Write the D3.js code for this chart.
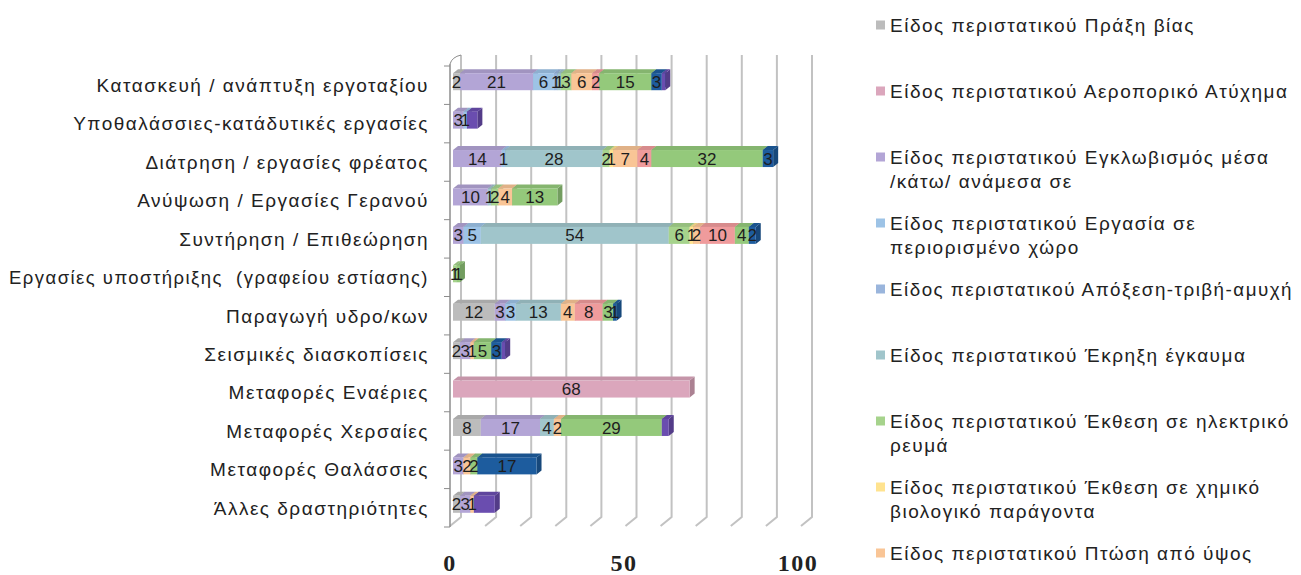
<!DOCTYPE html>
<html>
  <head>
    <meta charset="utf-8">
    <title>Είδος περιστατικού ανά δραστηριότητα</title>
    <script src="https://d3js.org/d3.v7.min.js"></script>
    <style>
      body { margin: 0; background: #fff; }
      svg { display: block; }
    </style>
  </head>
  <body>
    <svg width="1301" height="575"></svg>

    <script>
      // categories, top to bottom
      const categories = [
        "Κατασκευή / ανάπτυξη εργοταξίου",
        "Υποθαλάσσιες-κατάδυτικές εργασίες",
        "Διάτρηση / εργασίες φρέατος",
        "Ανύψωση / Εργασίες Γερανού",
        "Συντήρηση / Επιθεώρηση",
        "Εργασίες υποστήριξης  (γραφείου εστίασης)",
        "Παραγωγή υδρο/κων",
        "Σεισμικές διασκοπίσεις",
        "Μεταφορές Εναέριες",
        "Μεταφορές Χερσαίες",
        "Μεταφορές Θαλάσσιες",
        "Άλλες δραστηριότητες"
      ];

      const seriesNames = [
        "Είδος περιστατικού Πράξη βίας",
        "Είδος περιστατικού Αεροπορικό Ατύχημα",
        "Είδος περιστατικού Εγκλωβισμός μέσα /κάτω/ ανάμεσα σε",
        "Είδος περιστατικού Εργασία σε περιορισμένο χώρο",
        "Είδος περιστατικού Απόξεση-τριβή-αμυχή",
        "Είδος περιστατικού Έκρηξη έγκαυμα",
        "Είδος περιστατικού Έκθεση σε ηλεκτρικό ρευμά",
        "Είδος περιστατικού Έκθεση σε χημικό βιολογικό παράγοντα",
        "Είδος περιστατικού Πτώση από ύψος",
        "Είδος περιστατικού Πτώση αντικειμένου",
        "Είδος περιστατικού Χτύπημα από αντικείμενο",
        "Είδος περιστατικού Ολίσθηση-παραπάτημα",
        "Είδος περιστατικού Άλλο"
      ];

      const seriesColors = [
        "#bcbcbc", "#dba6bc", "#b3a5d6", "#9dc3e6", "#9ab5dc", "#a0c5cb", "#a6d38c",
        "#ffe38f", "#f9c596", "#ef9b9c", "#94c97b", "#1d5c9e", "#6a4daf"
      ];

      // one array per series, values in category order
      const praxiVias      = [2, 0, 0, 0, 0, 0, 12, 2, 0, 8, 0, 2];
      const aeroporiko     = [0, 0, 0, 0, 0, 0, 0, 0, 68, 0, 0, 0];
      const egklovismos    = [21, 3, 14, 10, 3, 0, 3, 3, 0, 17, 3, 3];
      const periorismenos  = [6, 1, 1, 0, 5, 0, 3, 0, 0, 0, 0, 0];
      const apoxesi        = [1, 0, 0, 0, 0, 0, 0, 0, 0, 0, 0, 0];
      const ekrixi         = [1, 0, 28, 1, 54, 0, 13, 0, 0, 4, 0, 0];
      const ilektriko      = [3, 0, 2, 2, 6, 1, 0, 0, 0, 0, 0, 0];
      const ximiko         = [0, 0, 1, 0, 1, 0, 0, 0, 0, 0, 0, 0];
      const ptosiYpsos     = [6, 0, 7, 4, 2, 0, 4, 1, 0, 2, 2, 1];
      const ptosiAntik     = [2, 0, 4, 0, 10, 0, 8, 0, 0, 0, 0, 0];
      const xtypima        = [15, 0, 32, 13, 4, 1, 3, 5, 0, 29, 2, 0];
      const olisthisi      = [3, 0, 3, 0, 2, 0, 1, 3, 0, 0, 17, 0];
      const allo           = [1, 3, 0, 0, 0, 0, 0, 1, 0, 2, 0, 6];

      const seriesValues = [praxiVias, aeroporiko, egklovismos, periorismenos, apoxesi, ekrixi,
        ilektriko, ximiko, ptosiYpsos, ptosiAntik, xtypima, olisthisi, allo];

      const xTicks = [0, 50, 100];

      const svg = d3.select("svg");
      const H = +svg.attr("height");

      const rows = categories.map((c, i) => {
        const r = { cat: c };
        seriesValues.forEach((vals, s) => r[s] = vals[i]);
        return r;
      });
      const keys = d3.range(seriesValues.length);
      const stacked = d3.stack().keys(keys)(rows);

      const x = d3.scaleLinear().domain([0, 100]).range([453, 801]);
      const xBack = d3.scaleLinear().domain([0, 100]).range([461, 812]);
      const y = d3.scaleBand().domain(categories).range([66, 527]);
      const color = d3.scaleOrdinal().domain(keys).range(seriesColors);

      const dx = 5, dy = -4;      // 3d depth of the bars
      const cy = c => y(c) + y.bandwidth() / 2;

      // back wall grid + floor
      const grid = svg.append("g");
      d3.range(0, 101, 10).forEach(v => {
        grid.append("path")
          .attr("d", `M${xBack(v)},55 V517 L${xBack(v) - 11},526`)
          .attr("fill", "none")
          .attr("stroke", "#c2c2c2")
          .attr("stroke-width", 2);
      });

      // left wall / category axis
      const axis = svg.append("g").attr("stroke", "#8c8c8c").attr("fill", "none");
      axis.append("path").attr("d", "M450,64 Q452,57 461,55");
      axis.append("line").attr("x1", 450).attr("x2", 450).attr("y1", 64).attr("y2", 527)
        .attr("stroke-width", 1.5);
      categories.concat([null]).forEach(c => {
        const yy = c ? y(c) : y.range()[1];
        axis.append("line").attr("x1", 444).attr("x2", 450).attr("y1", yy).attr("y2", yy);
      });

      // bars
      const bars = svg.append("g");
      stacked.forEach(layer => {
        const col = d3.color(color(layer.key));
        layer.forEach(d => {
          if (d[1] - d[0] <= 0) return;
          const x0 = x(d[0]), x1 = x(d[1]);
          const top = cy(d.data.cat) - 12, bot = top + 17;
          bars.append("path")
            .attr("d", `M${x1},${top} L${x1 + dx},${top + dy} L${x1 + dx},${bot + dy} L${x1},${bot} Z`)
            .attr("fill", col.darker(0.7));
          bars.append("path")
            .attr("d", `M${x0},${top} L${x0 + dx},${top + dy} L${x1 + dx},${top + dy} L${x1},${top} Z`)
            .attr("fill", col.darker(0.3));
          bars.append("rect")
            .attr("x", x0).attr("y", top)
            .attr("width", x1 - x0).attr("height", bot - top)
            .attr("fill", col);
        });
      });

      // value labels (last series shows none)
      const labels = svg.append("g")
        .attr("font-family", "'Liberation Sans', Arial, sans-serif")
        .attr("font-size", 17)
        .attr("fill", "#1e1e1e")
        .attr("text-anchor", "middle");
      stacked.slice(0, -1).forEach(layer => {
        layer.forEach(d => {
          const v = d[1] - d[0];
          if (v <= 0) return;
          labels.append("text")
            .attr("x", (x(d[0]) + x(d[1])) / 2)
            .attr("y", cy(d.data.cat) - 3.5)
            .attr("dy", "0.36em")
            .text(v);
        });
      });

      // category labels
      const catMax = 420;
      svg.append("g")
        .selectAll("text")
        .data(categories)
        .join("text")
        .attr("x", 429)
        .attr("y", d => cy(d))
        .attr("dy", "0.36em")
        .attr("text-anchor", "end")
        .attr("font-family", "'Liberation Sans', Arial, sans-serif")
        .attr("font-size", 19)
        .attr("letter-spacing", "1.5px")
        .attr("fill", "#222")
        .style("white-space", "pre")
        .text(d => d)
        .each(function () {
          // squeeze the longest label so it stays inside the page
          if (this.getComputedTextLength() > catMax) {
            d3.select(this).attr("textLength", catMax).attr("lengthAdjust", "spacingAndGlyphs");
          }
        });

      // value axis labels
      svg.append("g")
        .selectAll("text")
        .data(xTicks)
        .join("text")
        .attr("x", d => x(d) - 3)
        .attr("y", 562)
        .attr("dy", "0.36em")
        .attr("text-anchor", "middle")
        .attr("font-family", "'Liberation Serif', serif")
        .attr("font-weight", "bold")
        .attr("font-size", 24)
        .attr("letter-spacing", "1.5px")
        .attr("fill", "#222")
        .text(d => d);

      // legend (entries past the bottom edge are dropped, like the original)
      const legend = svg.append("g")
        .attr("font-family", "'Liberation Sans', Arial, sans-serif")
        .attr("font-size", 19)
        .attr("letter-spacing", "1.5px")
        .attr("fill", "#222");
      const wrapW = 412, fitW = 403;
      seriesNames.forEach((name, i) => {
        const yy = 25 + i * 66;
        if (yy + 10 > H) return;
        legend.append("rect")
          .attr("x", 876).attr("y", yy - 4.5)
          .attr("width", 9).attr("height", 9)
          .attr("fill", seriesColors[i]);
        const t = legend.append("text").attr("x", 890).attr("y", yy).attr("dy", "0.36em");
        const words = name.split(" ");
        let line = [];
        let ts = t.append("tspan").attr("x", 890);
        words.forEach(w => {
          line.push(w);
          ts.text(line.join(" "));
          if (ts.node().getComputedTextLength() > wrapW && line.length > 1) {
            line.pop();
            ts.text(line.join(" "));
            line = [w];
            ts = t.append("tspan").attr("x", 890).attr("dy", "24.5").text(w);
          }
        });
        // keep long lines inside the page
        t.selectAll("tspan").each(function () {
          if (this.getComputedTextLength() > fitW) {
            d3.select(this).attr("textLength", fitW).attr("lengthAdjust", "spacingAndGlyphs");
          }
        });
      });
    </script>
  </body>
</html>
